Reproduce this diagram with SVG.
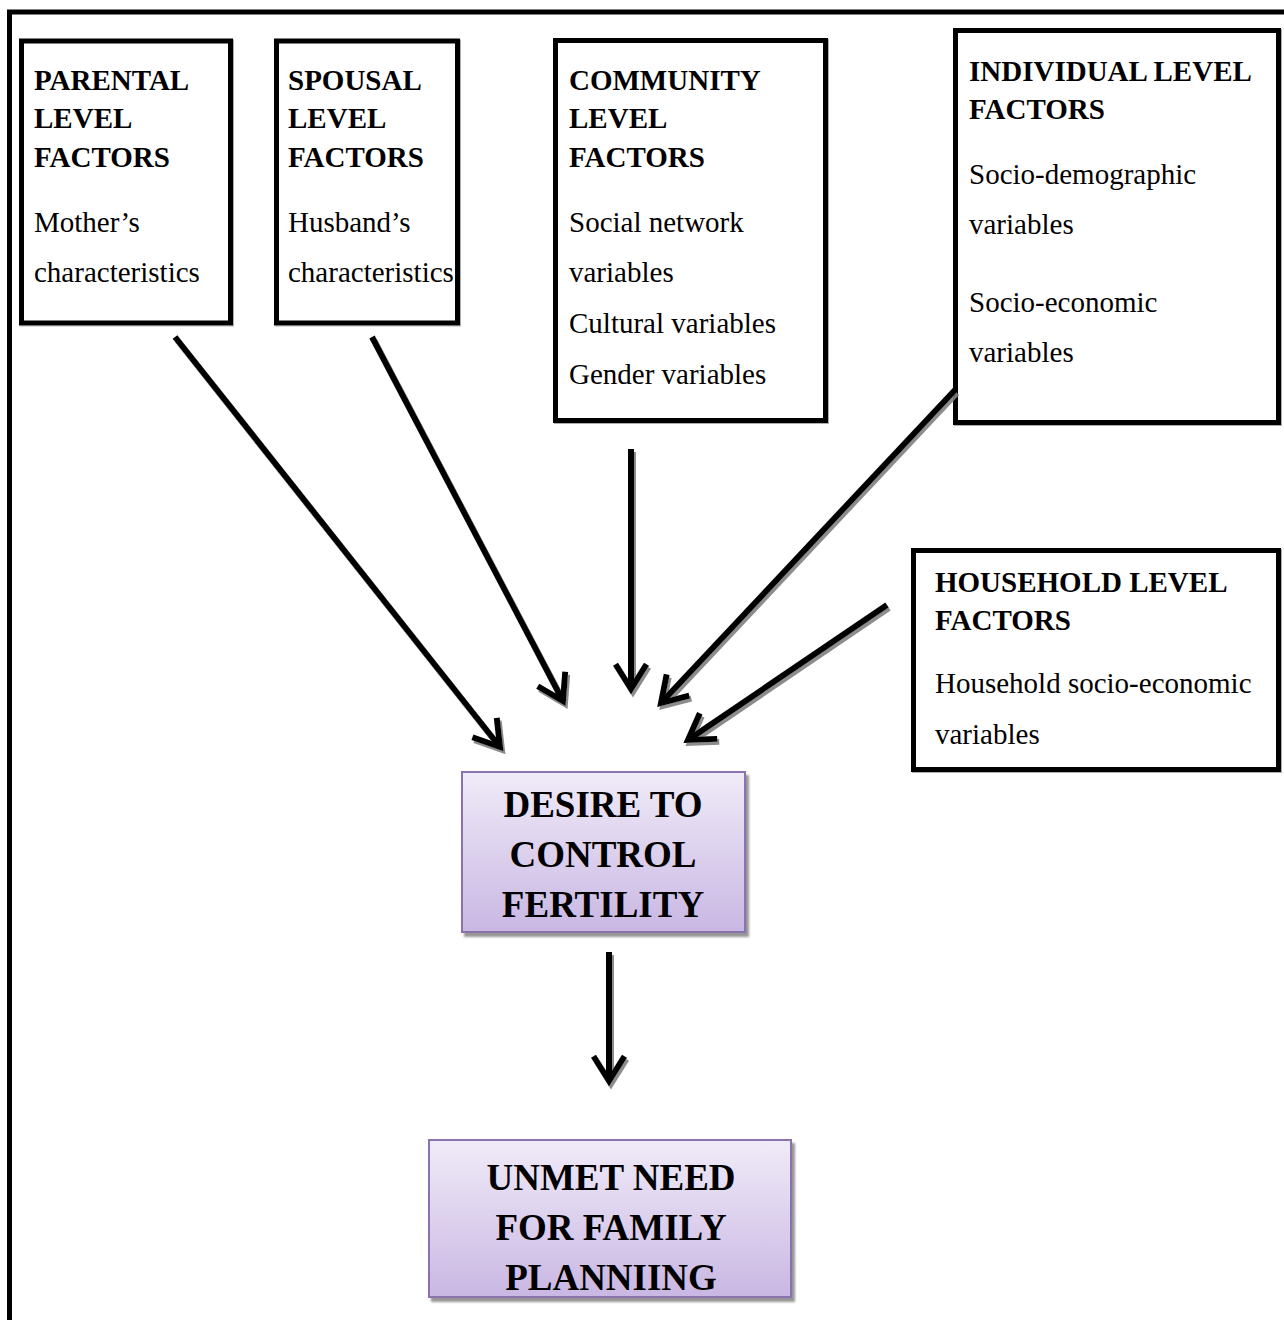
<svg xmlns="http://www.w3.org/2000/svg" width="1284" height="1320" viewBox="0 0 1284 1320">
  <style>
    .box { fill: #ffffff; stroke: #000000; stroke-width: 5; }
    .head { font-family: "Liberation Serif", "Times New Roman", serif; font-weight: bold; font-size: 29px; fill: #000; }
    .body { font-family: "Liberation Serif", "Times New Roman", serif; font-size: 29px; fill: #000; }
    .big { font-family: "Liberation Serif", "Times New Roman", serif; font-weight: bold; font-size: 37px; fill: #000; text-anchor: middle; }
    .outcome { fill: url(#lilac); stroke: #8a72ad; stroke-width: 2; }
    .wire { fill: none; stroke: #000; stroke-width: 6; marker-end: url(#chevron); }
  </style>
  <defs>
    <linearGradient id="lilac" x1="0" y1="0" x2="0" y2="1">
      <stop offset="0" stop-color="#f0ebf8"/>
      <stop offset="1" stop-color="#c9b7e3"/>
    </linearGradient>
    <filter id="soft" x="-20%" y="-20%" width="140%" height="140%">
      <feDropShadow dx="2" dy="3" stdDeviation="0.6" flood-color="#7f7f7f" flood-opacity="0.9"/>
    </filter>
    <filter id="boxshade" x="-5%" y="-5%" width="110%" height="110%">
      <feDropShadow dx="3" dy="4" stdDeviation="0.8" flood-color="#8c8c8c" flood-opacity="0.9"/>
    </filter>
    <filter id="edge" x="-5%" y="-5%" width="110%" height="110%">
      <feDropShadow dx="1" dy="1" stdDeviation="0.6" flood-color="#9a9a9a" flood-opacity="0.8"/>
    </filter>
    <!-- open chevron head, sized relative to the connector stroke -->
    <marker id="chevron" viewBox="0 0 12 12" refX="9.5" refY="6" markerWidth="6.2" markerHeight="6.2" orient="auto" markerUnits="strokeWidth">
      <path d="M1.5,1 L9.5,6 L1.5,11" fill="none" stroke="#000" stroke-width="1.9"/>
    </marker>
  </defs>

  <!-- page frame -->
  <path d="M9.5,1320 V12 H1284" fill="none" stroke="#000" stroke-width="5"/>

  <g id="parental">
    <rect class="box" x="21.5" y="41" width="209" height="282" filter="url(#edge)"/>
    <text class="head" x="34" y="90">PARENTAL</text>
    <text class="head" x="34" y="128">LEVEL</text>
    <text class="head" x="34" y="167">FACTORS</text>
    <text class="body" x="34" y="232">Mother’s</text>
    <text class="body" x="34" y="282">characteristics</text>
  </g>

  <g id="spousal">
    <rect class="box" x="276.5" y="41" width="181" height="282" filter="url(#edge)"/>
    <text class="head" x="288" y="90">SPOUSAL</text>
    <text class="head" x="288" y="128">LEVEL</text>
    <text class="head" x="288" y="167">FACTORS</text>
    <text class="body" x="288" y="232">Husband’s</text>
    <text class="body" x="288" y="282">characteristics</text>
  </g>

  <g id="community">
    <rect class="box" x="555.5" y="40.5" width="270" height="380" filter="url(#edge)"/>
    <text class="head" x="569" y="90">COMMUNITY</text>
    <text class="head" x="569" y="128">LEVEL</text>
    <text class="head" x="569" y="167">FACTORS</text>
    <text class="body" x="569" y="232">Social network</text>
    <text class="body" x="569" y="282">variables</text>
    <text class="body" x="569" y="333">Cultural variables</text>
    <text class="body" x="569" y="384">Gender variables</text>
  </g>

  <g id="individual">
    <rect class="box" x="955.5" y="30.5" width="323" height="392" filter="url(#edge)"/>
    <text class="head" x="969" y="81">INDIVIDUAL LEVEL</text>
    <text class="head" x="969" y="119">FACTORS</text>
    <text class="body" x="969" y="184">Socio-demographic</text>
    <text class="body" x="969" y="234">variables</text>
    <text class="body" x="969" y="312">Socio-economic</text>
    <text class="body" x="969" y="362">variables</text>
  </g>

  <g id="household">
    <rect class="box" x="913.5" y="550.5" width="365" height="219" filter="url(#edge)"/>
    <text class="head" x="935" y="592">HOUSEHOLD LEVEL</text>
    <text class="head" x="935" y="630">FACTORS</text>
    <text class="body" x="935" y="693">Household socio-economic</text>
    <text class="body" x="935" y="744">variables</text>
  </g>

  <g id="desire">
    <rect class="outcome" x="462" y="772" width="283" height="160" filter="url(#boxshade)"/>
    <text class="big" x="603" y="817">DESIRE TO</text>
    <text class="big" x="603" y="867">CONTROL</text>
    <text class="big" x="603" y="917">FERTILITY</text>
  </g>

  <g id="unmet">
    <rect class="outcome" x="429" y="1140" width="362" height="157" filter="url(#boxshade)"/>
    <text class="big" x="611" y="1190">UNMET NEED</text>
    <text class="big" x="611" y="1240">FOR FAMILY</text>
    <text class="big" x="611" y="1290">PLANNIING</text>
  </g>

  <g id="connectors" filter="url(#soft)">
    <path class="wire" d="M175,337 L500,747"/>
    <path class="wire" d="M372,337 L563,701"/>
    <path class="wire" d="M631,449 L631,689"/>
    <path class="wire" d="M955,390 L661,703"/>
    <path class="wire" d="M887,605 L688,740"/>
    <path class="wire" d="M609,952 L609,1081"/>
  </g>
</svg>
